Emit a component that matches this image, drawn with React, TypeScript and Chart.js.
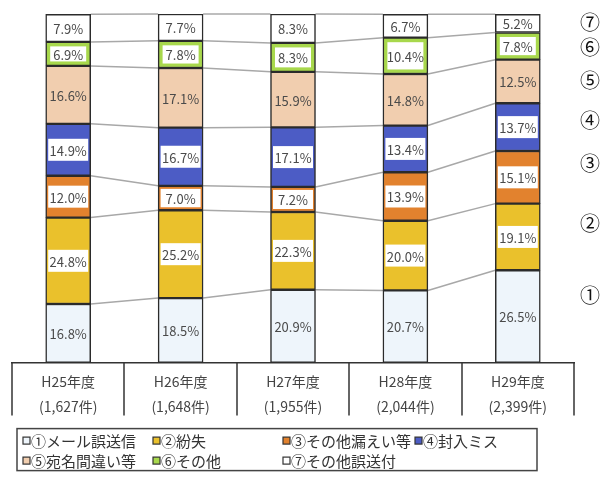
import { useEffect, useRef } from "react";
import { Chart, registerables } from "chart.js";

Chart.register(...registerables);

// ---------- data ----------
const categories = ["H25年度", "H26年度", "H27年度", "H28年度", "H29年度"];
const caseCounts = ["(1,627件)", "(1,648件)", "(1,955件)", "(2,044件)", "(2,399件)"];
const seriesNames = [
  "①メール誤送信",
  "②紛失",
  "③その他漏えい等",
  "④封入ミス",
  "⑤宛名間違い等",
  "⑥その他",
  "⑦その他誤送付",
];
const mailMisdelivery = [16.8, 18.5, 20.9, 20.7, 26.5];
const loss = [24.8, 25.2, 22.3, 20.0, 19.1];
const otherLeak = [12.0, 7.0, 7.2, 13.9, 15.1];
const enclosureError = [14.9, 16.7, 17.1, 13.4, 13.7];
const addressError = [16.6, 17.1, 15.9, 14.8, 12.5];
const others = [6.9, 7.8, 8.3, 10.4, 7.8];
const otherMisdelivery = [7.9, 7.7, 8.3, 6.7, 5.2];
const sideMarkers = ["①", "②", "③", "④", "⑤", "⑥", "⑦"];
const sideMarkerLevels = [19.4, 39.9, 57.2, 69.4, 80.9, 90.5, 97.7];

// ---------- styles ----------
const seriesValues = [mailMisdelivery, loss, otherLeak, enclosureError, addressError, others, otherMisdelivery];
const seriesColors = ["#EEF5FB", "#EAC12C", "#E2822E", "#4C5CC5", "#F1CEAF", "#A8D84C", "#FFFFFF"];
const labelModes = ["none", "band", "band", "band", "none", "frame", "none"];
const JP = '"Noto Sans CJK JP", "Noto Sans", sans-serif';
const BORDER = 1.5;

const decorPlugin = {
  id: "decor",
  beforeDatasetsDraw(chart: any) {
    const ctx = chart.ctx;
    ctx.save();
    ctx.strokeStyle = "#a8a8a8";
    ctx.lineWidth = 1.5;
    chart.data.datasets.forEach((_: any, d: number) => {
      const els = chart.getDatasetMeta(d).data;
      for (let j = 0; j < els.length - 1; j++) {
        const a = els[j].getProps(["x", "y", "width"], true);
        const b = els[j + 1].getProps(["x", "y", "width"], true);
        ctx.beginPath();
        ctx.moveTo(a.x + a.width / 2, a.y);
        ctx.lineTo(b.x - b.width / 2, b.y);
        ctx.stroke();
      }
    });
    ctx.restore();
  },
  afterDatasetsDraw(chart: any) {
    const ctx = chart.ctx;
    ctx.save();
    chart.data.datasets.forEach((ds: any, d: number) => {
      const els = chart.getDatasetMeta(d).data;
      els.forEach((el: any, j: number) => {
        const p = el.getProps(["x", "y", "base", "width"], true);
        const top = Math.min(p.y, p.base);
        const bottom = Math.max(p.y, p.base);
        const h = bottom - top;
        const cy = (top + bottom) / 2;
        const left = p.x - p.width / 2;
        const mode = labelModes[d];
        ctx.fillStyle = "#FFFFFF";
        if (mode === "band") {
          const bh = Math.min(22, h - 6);
          const inset = BORDER + 1;
          ctx.fillRect(left + inset, cy - bh / 2, p.width - inset * 2, bh);
        } else if (mode === "frame") {
          const inset = BORDER + 3;
          ctx.fillRect(left + inset, top + inset, p.width - inset * 2, h - inset * 2);
        }
        ctx.fillStyle = "#4a4a4a";
        ctx.font = `13px ${JP}`;
        ctx.textAlign = "center";
        ctx.textBaseline = "middle";
        ctx.fillText(`${ds.data[j].toFixed(1)}%`, p.x, cy + 1);
      });
    });
    ctx.restore();
  },
  afterDraw(chart: any) {
    const ctx = chart.ctx;
    const xs = chart.scales.x;
    const ys = chart.scales.y;
    const area = chart.chartArea;
    ctx.save();
    // table dividers under the axis
    const n = chart.data.labels.length;
    const cw = (xs.right - xs.left) / n;
    ctx.strokeStyle = "#333";
    ctx.lineWidth = 1.5;
    for (let k = 0; k <= n; k++) {
      const x = Math.round(xs.left + k * cw);
      ctx.beginPath();
      ctx.moveTo(x, area.bottom);
      ctx.lineTo(x, area.bottom + 53);
      ctx.stroke();
    }
    // side markers
    ctx.fillStyle = "#111";
    ctx.font = `20px ${JP}`;
    ctx.textAlign = "center";
    ctx.textBaseline = "middle";
    sideMarkers.forEach((m, i) => {
      ctx.fillText(m, 590, ys.getPixelForValue(sideMarkerLevels[i]));
    });
    // legend
    const lx = 17, ly = area.bottom + 66, lw = 520, lh = 42;
    ctx.strokeStyle = "#444";
    ctx.lineWidth = 1.5;
    ctx.strokeRect(lx, ly, lw, lh);
    const colX = [23, 153, 283, 415, 23, 153, 283];
    const rowY = [ly + 12, ly + 12, ly + 12, ly + 12, ly + 32, ly + 32, ly + 32];
    ctx.font = `15px ${JP}`;
    ctx.textAlign = "left";
    chart.data.datasets.forEach((ds: any, d: number) => {
      const x = colX[d], y = rowY[d];
      ctx.fillStyle = ds.backgroundColor;
      ctx.fillRect(x, y - 3.5, 7, 7);
      ctx.strokeStyle = "#333";
      ctx.lineWidth = 1.2;
      ctx.strokeRect(x, y - 3.5, 7, 7);
      ctx.fillStyle = "#333";
      ctx.fillText(ds.label, x + 8, y + 1);
    });
    ctx.restore();
  },
};

export default function App() {
  const ref = useRef<HTMLCanvasElement | null>(null);
  useEffect(() => {
    if (!ref.current) return;
    const chart = new Chart(ref.current, {
      type: "bar",
      data: {
        labels: categories.map((c, i) => [c, caseCounts[i]]),
        datasets: seriesNames.map((name, i) => ({
          label: name,
          data: seriesValues[i],
          backgroundColor: seriesColors[i],
          borderColor: "#2b2b2b",
          borderWidth: BORDER,
          borderSkipped: false,
          barThickness: 45,
        })),
      },
      options: {
        animation: false,
        responsive: false,
        maintainAspectRatio: false,
        layout: { padding: { left: 12, right: 36, top: 14, bottom: 54 } },
        plugins: { legend: { display: false }, tooltip: { enabled: false } },
        scales: {
          x: {
            stacked: true,
            grid: { display: false, drawTicks: false },
            border: { display: true, color: "#333", width: 1.5 },
            ticks: {
              font: { family: JP, size: 14, lineHeight: 1.8 },
              color: "#444",
              padding: 6,
              maxRotation: 0,
              autoSkip: false,
            },
          },
          y: { stacked: true, display: false, min: 0, max: 100 },
        },
      },
      plugins: [decorPlugin],
    } as any);
    return () => chart.destroy();
  }, []);
  return (
    <div style={{ position: "absolute", left: 0, top: 0, width: 610, height: 479, background: "#fff" }}>
      <canvas ref={ref} width={610} height={479} style={{ display: "block" }} />
    </div>
  );
}
